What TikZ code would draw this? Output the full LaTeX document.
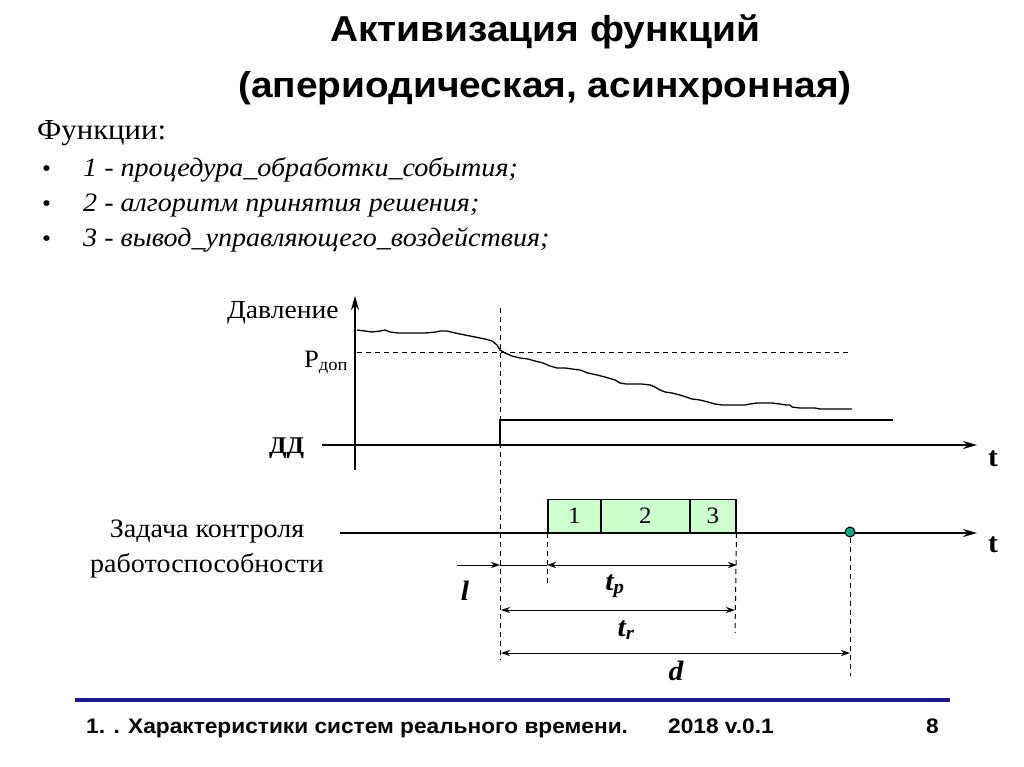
\documentclass[tikz,border=0pt]{standalone}
\usepackage{fontspec}
\setmainfont[FakeStretch=1.06]{Liberation Serif}
\newfontfamily\widesans[FakeStretch=1.08]{Liberation Sans}
\usetikzlibrary{arrows.meta}
\definecolor{boxgreen}{RGB}{204,255,204}
\definecolor{dotteal}{RGB}{20,170,130}
\definecolor{footblue}{RGB}{26,26,140}
\tikzset{
  txt/.style={inner sep=0pt, anchor=base west},
  axis/.style={line width=1.8pt, -{Stealth[length=14pt,width=8pt]}},
  dimline/.style={line width=1pt},
  dimarr/.style={line width=1pt, {Stealth[length=9pt,width=6pt]}-{Stealth[length=9pt,width=6pt]}},
  guide/.style={line width=1pt, dash pattern=on 5pt off 4pt},
  taskbox/.style={draw, line width=1.5pt, fill=boxgreen, inner sep=0pt, minimum height=33pt, anchor=south west, text height=16pt, text depth=0pt, font=\fontsize{23.5}{25}\selectfont},
  dimlabel/.style={inner sep=0pt, anchor=base, font=\fontsize{28}{30}\selectfont\bfseries\itshape},
  footer/.style={inner sep=0pt, anchor=base west, font=\widesans\bfseries\fontsize{21}{23}\selectfont},
}
\begin{document}
\begin{tikzpicture}[x=1pt,y=-1pt]
\useasboundingbox[fill=white] (0,0) rectangle (1024,767);

% Title
\node[inner sep=0pt, anchor=base] (title1) at (545,42) {\widesans\bfseries\fontsize{36}{40}\selectfont Активизация функций};
\node[inner sep=0pt, anchor=base] (title2) at (545,98) {\widesans\bfseries\fontsize{36}{40}\selectfont (апериодическая, асинхронная)};

% Functions list
\node[txt, font=\fontsize{29}{32}\selectfont] (funcs) at (37,140) {Функции:};
\node[txt, font=\fontsize{24}{26}\selectfont] (b1dot) at (42,177) {•};
\node[txt, font=\fontsize{24}{26}\selectfont] (b2dot) at (42,212) {•};
\node[txt, font=\fontsize{24}{26}\selectfont] (b3dot) at (42,247) {•};
\node[txt, font=\fontsize{26.5}{28}\selectfont\itshape] (item1) at (83,177) {1 - процедура\_обработки\_события;};
\node[txt, font=\fontsize{26.5}{28}\selectfont\itshape] (item2) at (83,212) {2 - алгоритм принятия решения;};
\node[txt, font=\fontsize{26.5}{28}\selectfont\itshape] (item3) at (83,247) {3 - вывод\_управляющего\_воздействия;};

% Upper graph
\coordinate (ybot) at (355,470);
\coordinate (ytop) at (355,296);
\coordinate (ddstart) at (322,445);
\coordinate (ddend) at (977,445);
\draw[axis] (ybot) -- (ytop);
\draw[axis] (ddstart) -- (ddend);
\node[txt, font=\fontsize{26}{28}\selectfont] (davl) at (227,318) {Давление};
\node[txt, font=\fontsize{25}{27}\selectfont] (pdop) at (304,367) {P\textsubscript{доп}};
\node[txt, font=\fontsize{24}{26}\selectfont\bfseries] (dd) at (269,453) {ДД};
\node[txt, font=\fontsize{28}{30}\selectfont\bfseries] (t1) at (988,466) {t};

\coordinate (pdA) at (357,352);
\coordinate (pdB) at (850,352);
\draw[guide] (pdA) -- (pdB);

\draw[line width=1.3pt, line join=round]
 (357,330) -- (365,331) -- (372,332) -- (380,331) -- (385,330) -- (390,332) -- (398,333)
 -- (410,333) -- (425,333) -- (436,332) -- (440,331) -- (447,331) -- (455,333) -- (465,335)
 -- (475,337) -- (485,339) -- (492,341) -- (497,345) -- (500,350) -- (505,353) -- (512,356)
 -- (520,358) -- (528,359) -- (535,361) -- (543,363) -- (550,366) -- (557,368) -- (565,368)
 -- (572,369) -- (580,370) -- (588,373) -- (597,375) -- (605,377) -- (615,380) -- (620,383)
 -- (626,384) -- (634,384) -- (642,384) -- (650,385) -- (655,387) -- (660,390) -- (665,392)
 -- (672,393) -- (680,395) -- (686,397) -- (692,399) -- (700,400) -- (708,402) -- (715,404)
 -- (722,405) -- (730,405) -- (738,405) -- (745,405) -- (750,404) -- (757,403) -- (765,403)
 -- (772,403) -- (780,404) -- (786,405) -- (790,405) -- (792,407) -- (800,408) -- (810,408)
 -- (815,408) -- (820,409) -- (830,409) -- (852,409);

\coordinate (stepA) at (500,445);
\coordinate (stepB) at (500,420);
\coordinate (stepC) at (893,420);
\draw[line width=1.8pt] (stepA) -- (stepB) -- (stepC);

% Lower graph
\coordinate (tstart) at (340,533);
\coordinate (tend) at (977,533);
\draw[axis] (tstart) -- (tend);
\node[txt, font=\fontsize{28}{30}\selectfont\bfseries] (t2) at (988,552) {t};
\node[inner sep=0pt, anchor=base, font=\fontsize{26.5}{28}\selectfont] (task1) at (207,537) {Задача контроля};
\node[inner sep=0pt, anchor=base, font=\fontsize{26.5}{28}\selectfont] (task2) at (207,572) {работоспособности};

\node[taskbox, minimum width=53pt] (box1) at (547,533) {1};
\node[taskbox, minimum width=89pt] (box2) at (600,533) {2};
\node[taskbox, minimum width=46pt] (box3) at (689,533) {3};

\node[circle, draw, line width=1pt, fill=dotteal, inner sep=0pt, minimum size=10pt] (dl) at (850,532) {};

% Guides
\coordinate (g0a) at (500,308);
\coordinate (g0b) at (500,660);
\coordinate (g1b) at (547,583);
\coordinate (g2b) at (735,633);
\coordinate (g3b) at (850,676);
\draw[guide] (g0a) -- (g0b);
\draw[guide] (box1.south west) -- (g1b);
\draw[guide] (box3.south east) -- (g2b);
\draw[guide] (dl.south) -- (g3b);

% Dimension arrows
\coordinate (lA) at (457,565);
\coordinate (lB) at (500,565);
\coordinate (tpA) at (547,565);
\coordinate (tpB) at (737,565);
\coordinate (trA) at (501,610);
\coordinate (trB) at (735,610);
\coordinate (dA) at (501,653);
\coordinate (dB) at (850,653);
\draw[dimline, -{Stealth[length=9pt,width=6pt]}] (lA) -- (lB);
\draw[dimline] (lB) -- (tpA);
\draw[dimarr] (tpA) -- (tpB);
\draw[dimarr] (trA) -- (trB);
\draw[dimarr] (dA) -- (dB);

\node[dimlabel] (llab) at (465,600) {l};
\node[dimlabel] (tplab) at (615,590) {t\textsubscript{p}};
\node[dimlabel] (trlab) at (626,636) {t\textsubscript{r}};
\node[dimlabel] (dlab) at (676,680) {d};

% Footer
\coordinate (fA) at (75,700);
\coordinate (fB) at (950,700);
\draw[footblue, line width=4pt] (fA) -- (fB);
\node[footer] (foot1) at (86,733) {1. . Характеристики систем реального времени.};
\node[footer] (foot2) at (668,733) {2018 v.0.1};
\node[footer] (foot3) at (926,733) {8};
\end{tikzpicture}
\end{document}
